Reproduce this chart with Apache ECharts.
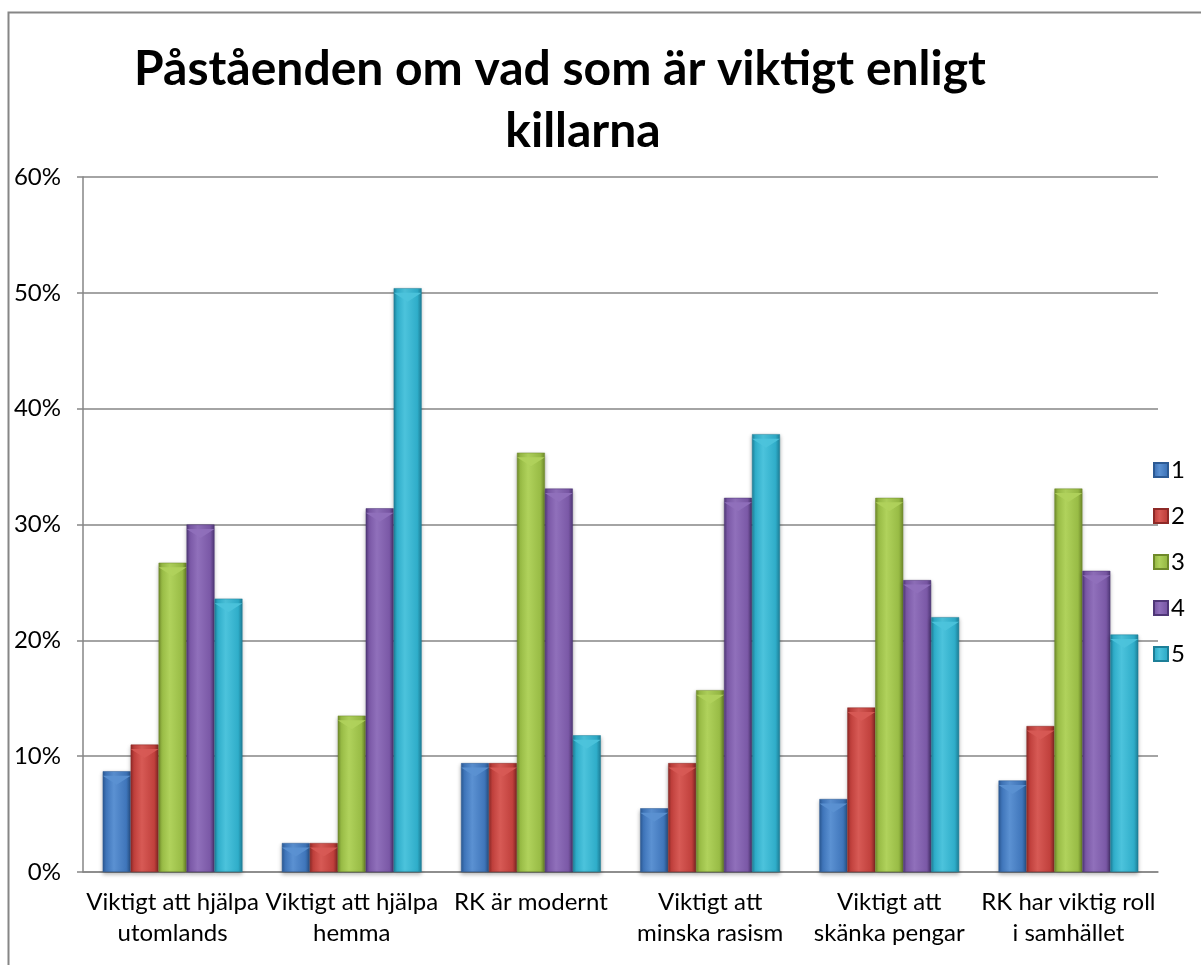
<!DOCTYPE html>
<html>
<head>
<meta charset="utf-8">
<script src="https://cdn.jsdelivr.net/npm/echarts@6/dist/echarts.min.js"></script>
<style>
  html, body { margin: 0; padding: 0; background: #fff; }
  #main { width: 1201px; height: 965px; }
</style>
</head>
<body>
<div id="main"></div>
<script>
const categories = [
  'Viktigt att hjälpa\nutomlands',
  'Viktigt att hjälpa\nhemma',
  'RK är modernt',
  'Viktigt att\nminska rasism',
  'Viktigt att\nskänka pengar',
  'RK har viktig roll\ni samhället'
];
const seriesNames = ['1', '2', '3', '4', '5'];
const values1 = [8.7, 2.5, 9.4, 5.5, 6.3, 7.9];
const values2 = [11.0, 2.5, 9.4, 9.4, 14.2, 12.6];
const values3 = [26.7, 13.5, 36.2, 15.7, 32.3, 33.1];
const values4 = [30.0, 31.4, 33.1, 32.3, 25.2, 26.0];
const values5 = [23.6, 50.4, 11.8, 37.8, 22.0, 20.5];
const yTicks = [0, 10, 20, 30, 40, 50, 60];

const allValues = [values1, values2, values3, values4, values5];
// [dark edge, base, highlight]
const palette = [
  ['#2c5a94', '#3f75ba', '#5b91d2'],
  ['#8e2a27', '#c0403c', '#d75a55'],
  ['#6f8a2a', '#98bb45', '#b0d25c'],
  ['#4f3777', '#7a58a6', '#9070bb'],
  ['#1d7f98', '#2fadc9', '#4cc3dc']
];

const font = 'Lato, "Open Sans", sans-serif';

function barGradient(p) {
  return new echarts.graphic.LinearGradient(0, 0, 1, 0, [
    { offset: 0, color: p[0] },
    { offset: 0.12, color: p[1] },
    { offset: 0.4, color: p[2] },
    { offset: 0.85, color: p[1] },
    { offset: 1, color: p[0] }
  ]);
}

const series = seriesNames.map((name, i) => ({
  name: name,
  type: 'bar',
  data: allValues[i],
  barGap: 0,
  barCategoryGap: '22%',
  itemStyle: {
    color: barGradient(palette[i]),
    borderColor: palette[i][0],
    borderWidth: 0.5,
    shadowColor: 'rgba(0,0,0,0.3)',
    shadowBlur: 4,
    shadowOffsetY: 2
  }
}));

// light bevel triangles on top of each bar
seriesNames.forEach((name, i) => {
  series.push({
    name: 'bevel' + name,
    type: 'pictorialBar',
    data: allValues[i],
    barGap: 0,
    barCategoryGap: '22%',
    symbol: 'path://M0,0 L10,0 L5,4 Z',
    symbolSize: ['100%', 9],
    symbolPosition: 'end',
    symbolOffset: [0, '50%'],
    z: 5,
    silent: true,
    itemStyle: { color: palette[i][2], opacity: 0.9 }
  });
});

const chart = echarts.init(document.getElementById('main'));
chart.setOption({
  backgroundColor: '#fff',
  animation: false,
  title: [
    {
      text: 'Påståenden om vad som är viktigt enligt',
      left: 555,
      top: 41,
      textAlign: 'center',
      textStyle: { fontFamily: font, fontWeight: 'bold', fontSize: 48, color: '#000' }
    },
    {
      text: 'killarna',
      left: 578,
      top: 103,
      textAlign: 'center',
      textStyle: { fontFamily: font, fontWeight: 'bold', fontSize: 48, color: '#000' }
    }
  ],
  legend: {
    data: seriesNames,
    orient: 'vertical',
    left: 1148,
    top: 453,
    itemWidth: 14,
    itemHeight: 14,
    itemGap: 22,
    icon: 'rect',
    textStyle: { fontFamily: font, fontSize: 24, color: '#000', lineHeight: 24, padding: [0, 0, 0, -2] }
  },
  grid: { left: 83, right: 43, top: 177, bottom: 93 },
  xAxis: {
    type: 'category',
    data: categories,
    axisLine: { lineStyle: { color: '#868686', width: 1.5 } },
    axisTick: { show: false },
    axisLabel: {
      fontFamily: font, fontSize: 24, color: '#000', lineHeight: 31, margin: 15, interval: 0
    }
  },
  yAxis: {
    type: 'value',
    min: yTicks[0],
    max: yTicks[yTicks.length - 1],
    interval: 10,
    axisLine: { show: true, lineStyle: { color: '#868686', width: 1.5 } },
    axisTick: { show: true, length: 6, lineStyle: { color: '#868686', width: 1.5 } },
    splitLine: { lineStyle: { color: '#868686', width: 1.5 } },
    axisLabel: {
      formatter: '{value}%', fontFamily: font, fontSize: 24, color: '#000', margin: 22
    }
  },
  graphic: [
    {
      type: 'polyline',
      shape: { points: [[8.5, 965], [8.5, 12.5], [1201, 12.5]] },
      style: { stroke: '#868686', lineWidth: 2, fill: null },
      silent: true
    }
  ],
  series: series
});
</script>
</body>
</html>
